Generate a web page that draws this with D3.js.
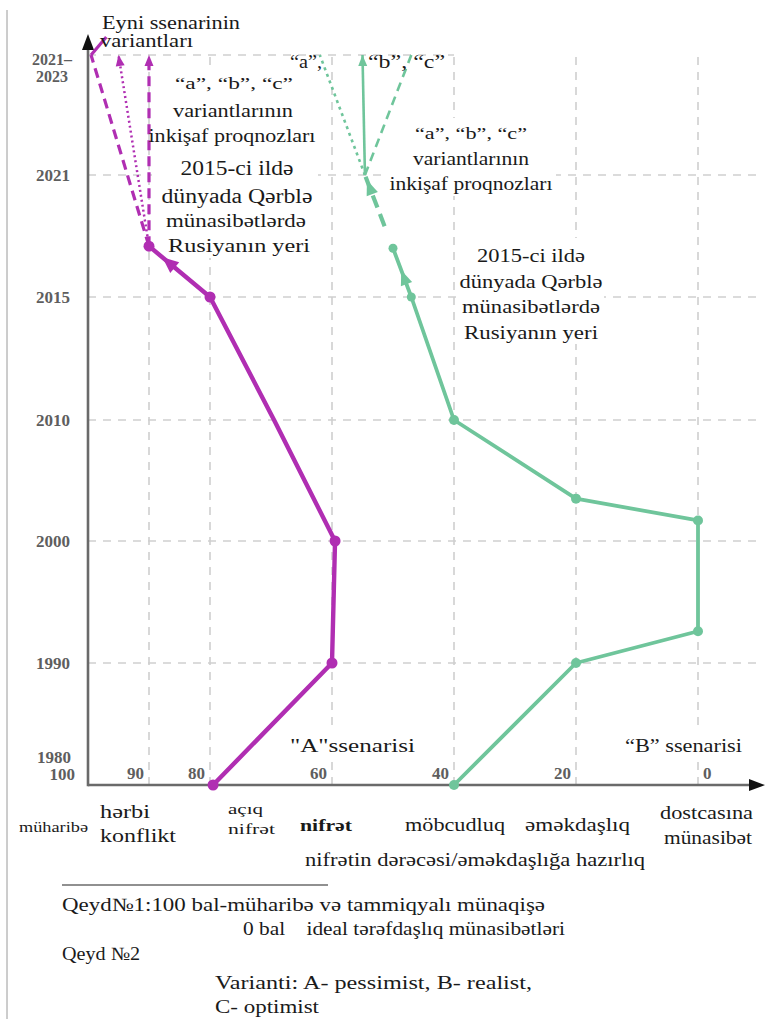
<!DOCTYPE html>
<html><head><meta charset="utf-8">
<script src="https://cdn.jsdelivr.net/npm/d3@7"></script>
<style>
html,body{margin:0;padding:0;background:#fff;}
svg{display:block;}
</style></head>
<body>
<svg id="chart" width="765" height="1019"></svg>
<script>
// ---------- DATA ----------
const yearTicks = [1990, 2000, 2010, 2015, 2021, 2023];
const yearTickLabels = ["1990", "2000", "2010", "2015", "2021", "2021–\n2023"];
const xTicks = [90, 80, 60, 40, 20, 0];
const xTickLabels = ["90", "80", "60", "40", "20", "0"];

// Scenario A (purple)
const yearsA  = [1980, 1990, 2000, 2010, 2015, 2017.5];
const valuesA = [79.5, 60, 59.5, 69.5, 80, 90];
const markersA = [true, true, true, false, true, true];
const variantEndValuesA = [99.5, 95, 90];
const variantStylesA = ["dashed", "dotted", "dashed"];

// Scenario B (green)
const yearsB  = [1980, 1990, 1992.6, 2001.7, 2003.5, 2010, 2015, 2017.4];
const valuesB = [40, 20, 0, 0, 20, 40, 47, 50];
const forecastB = { year: 2021, value: 54.6 };
const variantEndValuesB = [62, 55, 47];
const variantStylesB = ["dotted", "solid", "dashed"];

const categoryLabels = [
  {v: 100, lines: ["müharibə"]},
  {v: 90, lines: ["hərbi", "konflikt"]},
  {v: 80, lines: ["açıq", "nifrət"]},
  {v: 60, lines: ["nifrət"]},
  {v: 40, lines: ["möbcudluq"]},
  {v: 20, lines: ["əməkdaşlıq"]},
  {v: 0, lines: ["dostcasına", "münasibət"]}
];
const axisTitle = "nifrətin dərəcəsi/əməkdaşlığa hazırlıq";
const notes = [
  "Qeyd№1:100 bal-müharibə və tammiqyalı münaqişə",
  "0 bal    ideal tərəfdaşlıq münasibətləri",
  "Qeyd №2",
  "Varianti: A- pessimist, B- realist,",
  "C- optimist"
];

// ---------- SETUP ----------
const FONT = "'Liberation Serif','Times New Roman',serif";
const PURPLE = "#b02eb2", GREEN = "#6fc59b", GRID = "#cfcfcf", AXIS = "#6a6a6a";
const svg = d3.select("#chart").attr("font-family", FONT);
const x = d3.scaleLinear().domain([100, 0]).range([88, 698]);
const y = d3.scaleLinear()
  .domain([1980, 1990, 2000, 2010, 2015, 2021, 2023])
  .range([785, 663, 541, 420, 297, 175, 55]);
const X0 = x(100), Y0 = y(1980);

function txt(g, tx, ty, s, size, width, anchor, weight, fill) {
  const t = g.append("text").attr("x", tx).attr("y", ty).attr("font-size", size)
    .attr("text-anchor", anchor || "start").attr("fill", fill || "#1a1a1a").text(s);
  if (weight) t.attr("font-weight", weight);
  if (width) t.attr("textLength", width).attr("lengthAdjust", "spacingAndGlyphs");
  return t;
}

svg.append("line").attr("x1", 7).attr("x2", 7).attr("y1", 10).attr("y2", 1019)
  .attr("stroke", "#9a9a9a").attr("stroke-width", 1);

// ---------- GRID ----------
const grid = svg.append("g");
yearTicks.forEach(t => {
  grid.append("line").attr("x1", X0).attr("x2", t === 2023 ? x(40) : 762)
    .attr("y1", y(t)).attr("y2", y(t))
    .attr("stroke", GRID).attr("stroke-width", 1.6).attr("stroke-dasharray", "8,7");
});
xTicks.forEach(v => {
  grid.append("line").attr("x1", x(v)).attr("x2", x(v))
    .attr("y1", Y0).attr("y2", y(2023) - 3)
    .attr("stroke", GRID).attr("stroke-width", 1.6).attr("stroke-dasharray", "8,7");
});

// ---------- white boxes behind annotations ----------
const boxes = svg.append("g");
function box(x1, y1, x2, y2) {
  boxes.append("rect").attr("x", x1).attr("y", y1).attr("width", x2 - x1).attr("height", y2 - y1).attr("fill", "#fff");
}
box(152, 70, 318, 258);
box(388, 118, 556, 196);
box(458, 238, 604, 344);
box(285, 731, 420, 757);
box(620, 731, 746, 757);

// ---------- AXES ----------
const ax = svg.append("g");
ax.append("line").attr("x1", X0).attr("x2", 752).attr("y1", Y0).attr("y2", Y0)
  .attr("stroke", AXIS).attr("stroke-width", 2.6);
ax.append("line").attr("x1", X0).attr("x2", X0).attr("y1", Y0 + 1.3).attr("y2", 46)
  .attr("stroke", AXIS).attr("stroke-width", 2.6);
ax.append("path").attr("d", `M${X0},34 L${X0 - 6},50 L${X0 + 6},50 Z`).attr("fill", "#111");
ax.append("path").attr("d", `M765,${Y0} L749,${Y0 - 6} L749,${Y0 + 6} Z`).attr("fill", "#111");

const TICK = "#5e5e5e";
yearTicks.forEach((t, i) => {
  const lines = yearTickLabels[i].split("\n");
  if (lines.length === 1) {
    txt(ax, 70, y(t) + 6, lines[0], 17, null, "end", "bold", TICK);
  } else {
    txt(ax, 72, y(t) + 10, lines[0], 16, null, "end", "bold", TICK);
    txt(ax, 68, y(t) + 27, lines[1], 16, null, "end", "bold", TICK);
  }
});
txt(ax, 71, Y0 - 22, "1980", 17, null, "end", "bold", TICK);
txt(ax, 75, Y0 - 5, "100", 17, null, "end", "bold", TICK);
xTicks.forEach((v, i) => {
  txt(ax, v === 0 ? x(v) + 5 : x(v) - 5, Y0 - 6, xTickLabels[i], 17, null, v === 0 ? "start" : "end", "bold", TICK);
});

// ---------- helpers ----------
function arrowAt(g, p0, p1, t, color, len, half) {
  const px = p0[0] + (p1[0] - p0[0]) * t, py = p0[1] + (p1[1] - p0[1]) * t;
  const a = Math.atan2(p1[1] - p0[1], p1[0] - p0[0]);
  const bx = px - len * Math.cos(a), by = py - len * Math.sin(a);
  const nx = -Math.sin(a) * half, ny = Math.cos(a) * half;
  g.append("path").attr("d", `M${px},${py} L${bx + nx},${by + ny} L${bx - nx},${by - ny} Z`).attr("fill", color);
}
const dashMap = {dashed: "10,6", dotted: "2,3", solid: null};
const line = d3.line().x(d => x(d[1])).y(d => y(d[0]));

// ---------- SCENARIO A ----------
const gA = svg.append("g");
const ptsA = yearsA.map((yr, i) => [yr, valuesA[i]]);
gA.append("path").datum(ptsA).attr("d", line).attr("fill", "none")
  .attr("stroke", PURPLE).attr("stroke-width", 4.4).attr("stroke-linejoin", "round");
const lastA = ptsA[ptsA.length - 1];
variantEndValuesA.forEach((v, i) => {
  const p = gA.append("path").datum([lastA, [2023, v]]).attr("d", line).attr("fill", "none")
    .attr("stroke", PURPLE).attr("stroke-width", variantStylesA[i] === "dotted" ? 2.5 : 3.2);
  if (dashMap[variantStylesA[i]]) p.attr("stroke-dasharray", dashMap[variantStylesA[i]]);
  if (i > 0) arrowAt(gA, [x(lastA[1]), y(lastA[0])], [x(v), y(2023)], 1, PURPLE, 11, 4.5);
});
gA.append("path")
  .attr("d", `M${x(variantEndValuesA[0])},${y(2023)} L${x(97)},${y(2023) - 18}`)
  .attr("fill", "none").attr("stroke", PURPLE).attr("stroke-width", 3.2);
arrowAt(gA, [x(ptsA[4][1]), y(ptsA[4][0])], [x(lastA[1]), y(lastA[0])], 0.78, PURPLE, 16, 7);
ptsA.forEach((d, i) => {
  if (markersA[i]) gA.append("circle").attr("cx", x(d[1])).attr("cy", y(d[0])).attr("r", 5.5).attr("fill", PURPLE);
});

// ---------- SCENARIO B ----------
const gB = svg.append("g");
const ptsB = yearsB.map((yr, i) => [yr, valuesB[i]]);
gB.append("path").datum(ptsB).attr("d", line).attr("fill", "none")
  .attr("stroke", GREEN).attr("stroke-width", 3.8).attr("stroke-linejoin", "round");
const lastB = ptsB[ptsB.length - 1];
const fB = [forecastB.year, forecastB.value];
const startDash = d3.interpolateArray(lastB, fB)(0.3);
gB.append("path").datum([startDash, fB]).attr("d", line).attr("fill", "none")
  .attr("stroke", GREEN).attr("stroke-width", 4.2).attr("stroke-dasharray", "13,7");
arrowAt(gB, [x(lastB[1]), y(lastB[0])], [x(fB[1]), y(fB[0])], 0.93, GREEN, 15, 6);
arrowAt(gB, [x(ptsB[6][1]), y(ptsB[6][0])], [x(lastB[1]), y(lastB[0])], 0.55, GREEN, 15, 6);
variantEndValuesB.forEach((v, i) => {
  const p = gB.append("path").datum([fB, [2023, v]]).attr("d", line).attr("fill", "none")
    .attr("stroke", GREEN).attr("stroke-width", 2.6);
  if (variantStylesB[i] === "dotted") p.attr("stroke-dasharray", "3,4");
  else if (variantStylesB[i] === "dashed") p.attr("stroke-dasharray", "9,6");
  if (variantStylesB[i] === "solid") arrowAt(gB, [x(fB[1]), y(fB[0])], [x(v), y(2023)], 1, GREEN, 11, 4.5);
});
ptsB.forEach((d, i) => {
  gB.append("circle").attr("cx", x(d[1])).attr("cy", y(d[0])).attr("r", i >= 6 ? 4.5 : 5).attr("fill", GREEN);
});

// ---------- ANNOTATIONS ----------
const tg = svg.append("g");
txt(tg, 102, 29, "Eyni ssenarinin", 18, 138);
txt(tg, 100, 47, "variantları", 18, 93);
txt(tg, 234, 89, "“a”, “b”, “c”", 17, 118, "middle");
txt(tg, 233, 117, "variantlarının", 18, 120, "middle");
txt(tg, 232, 142, "inkişaf proqnozları", 18, 167, "middle");
txt(tg, 237, 175, "2015-ci ildə", 20, 113, "middle");
txt(tg, 237, 203, "dünyada Qərblə", 20, 151, "middle");
txt(tg, 236, 227, "münasibətlərdə", 19, 140, "middle");
txt(tg, 239, 252, "Rusiyanın yeri", 19, 142, "middle");
txt(tg, 471, 139, "“a”, “b”, “c”", 17, 112, "middle");
txt(tg, 471, 165, "variantlarının", 18, 116, "middle");
txt(tg, 471, 190, "inkişaf proqnozları", 18, 163, "middle");
txt(tg, 531, 262, "2015-ci ildə", 19, 108, "middle");
txt(tg, 531, 288, "dünyada Qərblə", 19, 143, "middle");
txt(tg, 531, 313, "münasibətlərdə", 19, 138, "middle");
txt(tg, 531, 339, "Rusiyanın yeri", 19, 134, "middle");
txt(tg, 290, 68, "“a”,", 18, 32);
txt(tg, 368, 68, "“b”, “c”", 18, 77);
txt(tg, 290, 752, "\"A\"ssenarisi", 18, 125);
txt(tg, 625, 752, "“B” ssenarisi", 18, 117);

// category labels under axis
const cat = svg.append("g");
const catPos = {
  100: [[19, 832, 14, 69]],
  90:  [[100, 818, 18, 50], [100, 842, 18, 76]],
  80:  [[228, 814, 15, 35], [228, 834, 15, 47]],
  60:  [[300, 831, 17, 52]],
  40:  [[405, 831, 18, 100]],
  20:  [[525, 831, 18, 105]],
  0:   [[660, 819, 18, 93], [664, 844, 18, 88]]
};
categoryLabels.forEach(c => {
  c.lines.forEach((l, j) => {
    const [cx, cy, fs, w] = catPos[c.v][j];
    txt(cat, cx, cy, l, fs, w, "start", c.v === 60 ? "bold" : null);
  });
});
txt(cat, 305, 866, axisTitle, 18, 340);

// notes
svg.append("line").attr("x1", 62).attr("x2", 328).attr("y1", 885).attr("y2", 885).attr("stroke", "#222").attr("stroke-width", 1.2);
const ng = svg.append("g");
const notePos = [[62, 911, 483], [243, 935, 322], [62, 960, 78], [215, 989, 317], [215, 1013, 104]];
notes.forEach((n, i) => {
  txt(ng, notePos[i][0], notePos[i][1], n, 18.5, notePos[i][2]).style("white-space", "pre");
});
</script>
</body></html>
